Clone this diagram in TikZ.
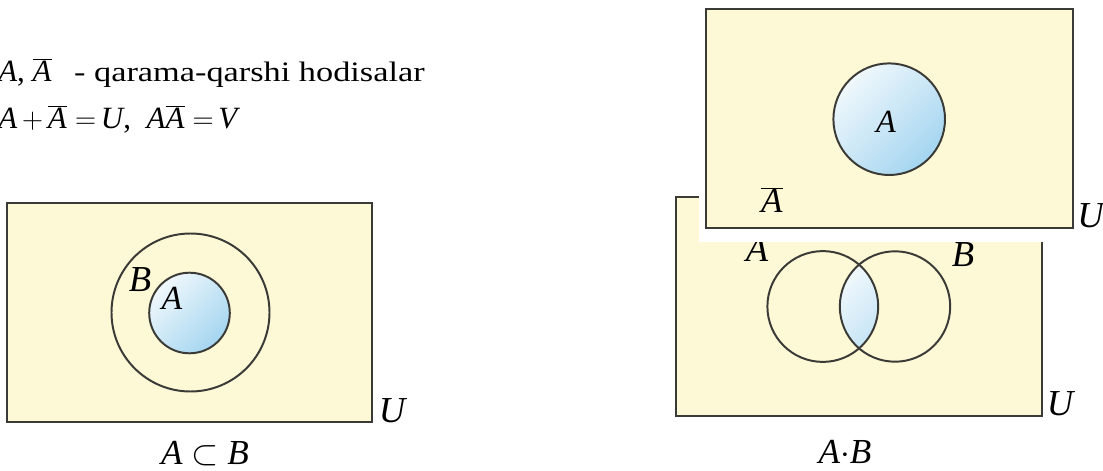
\documentclass[tikz,border=0pt]{standalone}
\usepackage{fontspec}
\setmainfont{Liberation Serif}
\newfontfamily\hdrfont[FakeStretch=1.22]{Liberation Serif}
\usetikzlibrary{positioning}
\definecolor{venncream}{HTML}{FDF8D6}
\definecolor{vennedge}{HTML}{3A3A36}
\definecolor{vennbluelo}{HTML}{F0F8FC}
\definecolor{vennbluehi}{HTML}{A4D5F0}
\newcommand{\vA}{\textit{A}}
\newcommand{\vAbar}{$\overline{\mbox{\textit{A}}}$}
\tikzset{
  vn/universe/.style={draw=vennedge, fill=venncream, line width=1.5pt},
  vn/ring/.style={draw=vennedge, line width=1.4pt},
  vn/blue/.style={top color=vennbluelo, bottom color=vennbluehi, shading angle=45},
  vn/lbl/.style={inner sep=0pt, anchor=base, font=\fontsize{26}{30}\selectfont\itshape},
  vn/lbls/.style={vn/lbl, font=\fontsize{23}{27}\selectfont\itshape},
  vn/txt/.style={inner sep=0pt, anchor=base west, font=\fontsize{22}{26}\selectfont}
}

\begin{document}
\begin{tikzpicture}[x=0.025cm, y=-0.025cm]
  \useasboundingbox (0,0) rectangle (1103,471);

  % heading lines
  \node[vn/txt] (hdr) at (-2,82)
    {\vA, \vAbar\hspace{16pt}{\hdrfont\fontsize{20}{24}\selectfont - qarama-qarshi hodisalar}};
  \node[vn/txt] (eqn) at (-2,129)
    {\vA$\,+\,$\vAbar$\;=\,$\textit{U},\ \ \vA\vAbar$\;=\,$\textit{V}};

  % A subset B
  \draw[vn/universe] (7,203) rectangle (372,422);
  \draw[vn/ring] (190.5,312.5) circle[radius=79];
  \shadedraw[vn/blue, vn/ring] (189.5,313) circle[radius=40.3];
  \node[vn/lbl] (lblB1) at (140,292) {B};
  \node[vn/lbls, font=\fontsize{24}{28}\selectfont\itshape] (lblA1) at (172,310) {A};
  \node[vn/lbl] (lblU1) at (392,422) {U};
  \node[vn/lbl, font=\fontsize{25}{28}\selectfont] (cap1) at (205,464) {\vA\ $\subset$ \textit{B}};

  % A.B
  \draw[vn/universe] (676,197) rectangle (1042,416);
  \begin{scope}
    \clip (822.8,306.5) circle[radius=55.4];
    \shade[vn/blue] (895,306.5) circle[radius=55.2];
  \end{scope}
  \draw[vn/ring] (822.8,306.5) circle[radius=55.4];
  \draw[vn/ring] (895,306.5) circle[radius=55.2];
  \node[vn/lbl] (lblA2) at (757,262) {A};
  \node[vn/lbl] (lblB2) at (963,267) {B};
  \node[vn/lbl] (lblU2) at (1060,415) {U};
  \node[vn/lbl, font=\fontsize{25}{28}\selectfont] (cap2) at (845,463) {\vA$\cdot$\textit{B}};

  % A and its complement
  \fill[white] (699,-5) rectangle (1082,242);
  \draw[vn/universe] (706,9) rectangle (1073,228);
  \shadedraw[vn/blue, vn/ring] (889.2,119.2) circle[radius=55.8];
  \node[vn/lbls] (lblA3) at (886,133) {A};
  \node[vn/lbl, font=\fontsize{25}{28}\selectfont] (lblAbar) at (772,213) {\vAbar};
  \node[vn/lbl, anchor=base west] (lblU3) at (1077,228) {U};
\end{tikzpicture}
\end{document}
